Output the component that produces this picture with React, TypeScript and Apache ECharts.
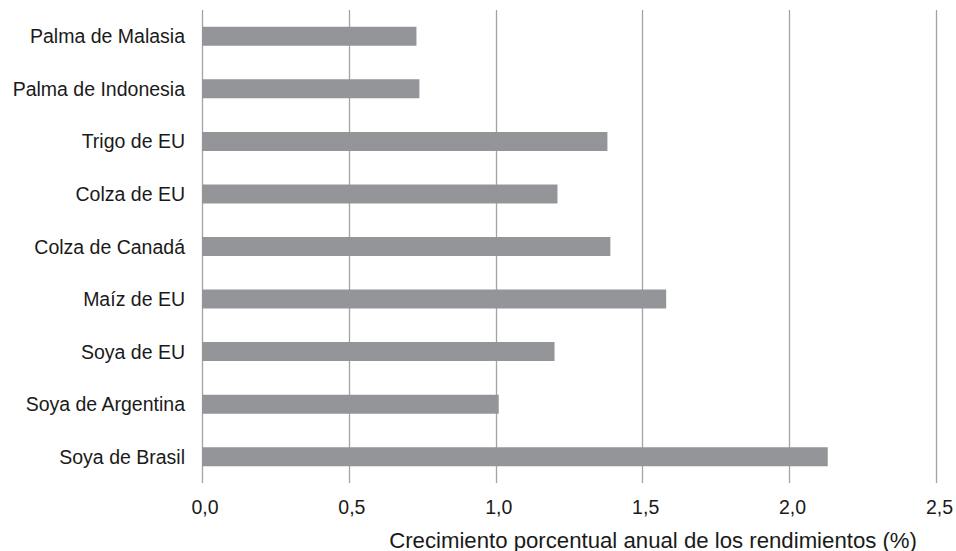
import React, { useEffect, useRef } from "react";
import * as echarts from "echarts";

const categories = [
  "Palma de Malasia",
  "Palma de Indonesia",
  "Trigo de EU",
  "Colza de EU",
  "Colza de Canadá",
  "Maíz de EU",
  "Soya de EU",
  "Soya de Argentina",
  "Soya de Brasil",
];
const values = [0.73, 0.74, 1.38, 1.21, 1.39, 1.58, 1.2, 1.01, 2.13];
const axisTitle = "Crecimiento porcentual anual de los rendimientos (%)";

const FONT = "'Liberation Sans', Arial, Helvetica, sans-serif";

export default function App() {
  const ref = useRef<HTMLDivElement>(null);
  useEffect(() => {
    if (!ref.current) return;
    const chart = echarts.init(ref.current, null, { renderer: "svg" });
    chart.setOption({
      animation: false,
      backgroundColor: "#ffffff",
      textStyle: { fontFamily: FONT },
      grid: { left: 202, right: 19, top: 10, bottom: 68, containLabel: false },
      xAxis: {
        type: "value",
        min: 0,
        max: 2.5,
        interval: 0.5,
        axisLine: { show: false },
        axisTick: { show: false },
        splitLine: { show: true, lineStyle: { color: "#a3a3a3", width: 1.3 } },
        axisLabel: {
          color: "#1a1a1a",
          fontSize: 19.5,
          fontFamily: FONT,
          margin: 14,
          padding: [0, 0, 0, 6],
          formatter: (v: number) => v.toFixed(1).replace(".", ","),
        },
      },
      yAxis: {
        type: "category",
        data: categories,
        inverse: true,
        axisLine: { show: false },
        axisTick: { show: false },
        splitLine: { show: false },
        axisLabel: {
          color: "#1a1a1a",
          fontSize: 19.5,
          fontFamily: FONT,
          margin: 17,
        },
      },
      series: [
        {
          type: "bar",
          data: values,
          barWidth: 19,
          itemStyle: { color: "#939598" },
        },
      ],
      graphic: [
        {
          type: "text",
          x: 917,
          y: 540,
          style: {
            text: axisTitle,
            fontSize: 22.2,
            fontFamily: FONT,
            fill: "#1a1a1a",
            textAlign: "right",
            textVerticalAlign: "middle",
          },
        },
      ],
    });
    return () => chart.dispose();
  }, []);
  return (
    <div
      ref={ref}
      style={{ position: "fixed", left: 0, top: 0, width: 956, height: 551 }}
    />
  );
}
